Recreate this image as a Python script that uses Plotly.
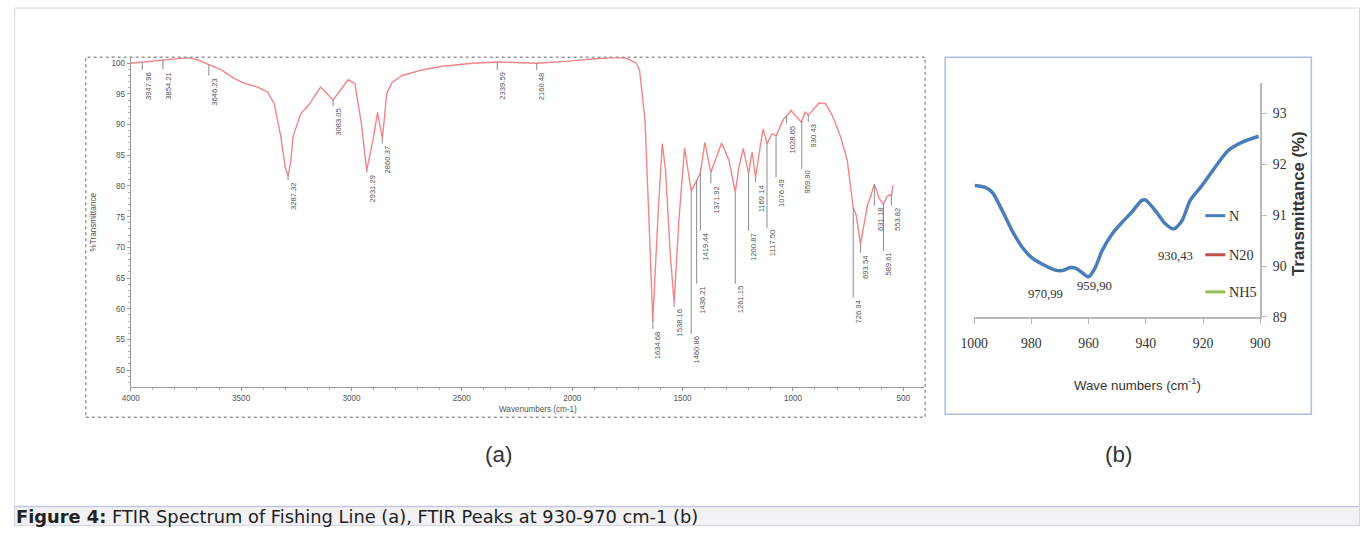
import plotly.graph_objects as go
import numpy as np

W, H = 1370, 534
# the photographed page is fitted into the window slightly reduced; layout helpers compensate
S, OX = 0.982, 12.3

# ---------------- (a) FTIR spectrum of fishing line ----------------
wavenumber = [4000, 3948, 3900, 3854, 3800, 3740, 3700, 3646, 3590, 3530, 3485, 3425, 3380,
              3350, 3320, 3300, 3287, 3275, 3265, 3230, 3195, 3140, 3083, 3015, 2985, 2955,
              2931, 2900, 2882, 2860, 2840, 2815, 2770, 2680, 2590, 2450, 2340, 2160, 2030,
              1870, 1800, 1755, 1710, 1695, 1688, 1670, 1652, 1635, 1610, 1592, 1577, 1556,
              1538, 1517, 1491, 1478, 1461, 1436, 1419, 1399, 1372, 1323, 1290, 1261, 1245,
              1225, 1201, 1185, 1169, 1150, 1135, 1117, 1095, 1076, 1041, 1029, 1008, 985,
              962, 945, 930, 882, 852, 822, 784, 754, 727, 713, 694, 661, 649, 631, 610,
              590, 575, 560, 554, 547]
transmittance = [100.0, 100.2, 100.3, 100.5, 100.7, 100.9, 100.6, 99.8, 98.9, 97.5, 96.7, 96.1, 95.3,
                 93.4, 88.0, 83.0, 81.7, 84.0, 88.0, 91.8, 93.1, 96.1, 94.0, 97.3, 96.7, 90.1,
                 82.5, 88.0, 92.0, 87.7, 95.1, 96.9, 98.0, 98.9, 99.5, 100.0, 100.2, 100.0, 100.3,
                 100.8, 100.9, 100.8, 100.0, 98.9, 96.4, 90.7, 74.3, 58.0, 76.0, 86.9, 82.5, 69.0,
                 61.0, 74.3, 86.2, 83.0, 79.2, 80.9, 82.2, 87.1, 82.2, 87.0, 84.2, 79.0, 83.0,
                 86.1, 82.0, 85.5, 81.4, 86.0, 89.3, 86.9, 88.5, 88.2, 91.0, 91.4, 92.3, 91.3,
                 90.4, 92.0, 91.5, 93.5, 93.4, 91.5, 88.0, 84.2, 76.5, 75.2, 70.5, 77.1, 78.2, 80.3, 78.0,
                 77.0, 78.2, 78.6, 78.3, 80.1]

peak_wn = [3947.96, 3854.21, 3646.23, 3287.32, 3083.05, 2931.29, 2860.37, 2339.59, 2160.48,
           1634.68, 1538.16, 1460.86, 1436.21, 1419.44, 1371.92, 1261.15, 1200.87, 1169.14,
           1117.50, 1076.49, 1028.65, 959.90, 930.43, 726.94, 693.54, 631.18, 589.61, 553.82]
peak_text = ["3947.96", "3854.21", "3646.23", "3287.32", "3083.05", "2931.29", "2860.37", "2339.59",
             "2160.48", "1634.68", "1538.16", "1460.86", "1436.21", "1419.44", "1371.92", "1261.15",
             "1200.87", "1169.14", "1117.50", "1076.49", "1028.65", "959.90", "930.43", "726.94",
             "693.54", "631.18", "589.61", "553.82"]
# layout: level (in %T) at which each rotated peak label starts
peak_label_level = [98.86, 99.0, 98.0, 80.9, 93.0, 82.2, 86.9, 98.9, 98.9,
                    56.7, 60.3, 55.9, 64.1, 72.7, 80.4, 64.1, 72.7, 80.6,
                    73.2, 81.4, 90.2, 82.8, 90.4, 61.8, 69.1, 76.8, 69.4, 76.8]

a_xticks = [4000, 3500, 3000, 2500, 2000, 1500, 1000, 500]
a_yticks = [50, 55, 60, 65, 70, 75, 80, 85, 90, 95, 100]

# ---------------- (b) FTIR peaks at 930-970 cm-1 ----------------
b_wn = [999.8, 996, 993.7, 990.2, 986.7, 983.2, 979.8, 976.3, 971.6, 969.3, 966.4, 964.6, 962.3,
        960, 957.7, 955.3, 951.8, 948.3, 944.9, 941.4, 940.2, 936.7, 933.2, 930.3, 927.4, 924.5,
        920.4, 915.8, 911.2, 906.5, 900.6]
b_N = [91.58, 91.54, 91.45, 91.09, 90.69, 90.37, 90.16, 90.04, 89.92, 89.91, 89.97, 89.96, 89.87,
       89.79, 89.97, 90.30, 90.63, 90.86, 91.06, 91.29, 91.30, 91.09, 90.83, 90.73, 90.89, 91.29,
       91.58, 91.94, 92.27, 92.43, 92.55]
b_peak_text = ["970,99", "959,90", "930,43"]
b_peak_x = [975.2, 958.1, 929.8]
b_peak_y = [89.45, 89.61, 90.2]
b_xticks = [1000, 980, 960, 940, 920, 900]
b_yticks = [89, 90, 91, 92, 93]
legend_names = ["N", "N20", "NH5"]
legend_colors = ["#4a7ebb", "#c0504d", "#9bbb59"]


def X(px):
    return min(max((px - OX) / S / W, 0.0), 1.0)


def Y(py):
    return min(max(1 - (py / S) / H, 0.0), 1.0)


def F(sz):
    return round(sz / S, 2)


fig = go.Figure()

fig.add_trace(go.Scatter(x=wavenumber, y=transmittance, mode="lines",
                         line=dict(color="#f58585", width=1.4),
                         xaxis="x", yaxis="y", showlegend=False, hoverinfo="skip"))

fig.add_trace(go.Scatter(x=b_wn, y=b_N, mode="lines", name="N",
                         line=dict(color=legend_colors[0], width=3.5, shape="spline", smoothing=0.8),
                         xaxis="x2", yaxis="y2", showlegend=False))

shapes = []
annotations = []

# whole-figure border and caption bar
shapes.append(dict(type="rect", xref="paper", yref="paper", x0=0.0004, x1=0.9996, y0=0, y1=Y(505),
                   fillcolor="#f2f2f5", line=dict(width=0), layer="below"))
shapes.append(dict(type="rect", xref="paper", yref="paper", x0=0.0004, x1=0.9996, y0=0.001, y1=Y(8),
                   line=dict(color="#d3d5e2", width=1)))
shapes.append(dict(type="line", xref="paper", yref="paper", x0=0.0004, x1=0.9996, y0=Y(505), y1=Y(505),
                   line=dict(color="#c3c8de", width=1.5)))

# frame of (a)
shapes.append(dict(type="rect", xref="paper", yref="paper", x0=X(84), x1=X(923), y0=Y(416), y1=Y(57),
                   line=dict(color="#9a9a9a", width=1.5, dash="dot")))
# frame of (b)
shapes.append(dict(type="rect", xref="paper", yref="paper", x0=X(943), x1=X(1309), y0=Y(413), y1=Y(57),
                   line=dict(color="#a8bfe4", width=1.5)))

# peak marker lines and rotated labels in (a)
wn_inc = np.array(wavenumber[::-1], dtype=float)
t_inc = np.array(transmittance[::-1], dtype=float)
for wn, txt, lvl in zip(peak_wn, peak_text, peak_label_level):
    yc = float(np.interp(wn, wn_inc, t_inc))
    shapes.append(dict(type="line", xref="x", yref="y", x0=wn, x1=wn, y0=yc, y1=lvl,
                       line=dict(color="#8a8a8a", width=1)))
    annotations.append(dict(x=wn, y=lvl, xref="x", yref="y", text=txt, textangle=-90,
                            showarrow=False, xanchor="left", yanchor="top", xshift=-1,
                            font=dict(family="Liberation Sans, Arial", size=F(7.5), color="#555555")))


def note(px, py, text, size, family="Liberation Sans, Arial", color="#333333", angle=0,
         xanchor="center"):
    annotations.append(dict(x=X(px), y=Y(py), xref="paper", yref="paper", text=text,
                            textangle=angle, showarrow=False, xanchor=xanchor, yanchor="middle",
                            font=dict(family=family, size=F(size), color=color)))


# axis titles of (a)
note(536, 408, "Wavenumbers (cm-1)", 8, color="#555555")
note(92, 221, "%Transmittance", 8, color="#555555", angle=-90)

# (b) peak labels
for txt, bx, by in zip(b_peak_text, b_peak_x, b_peak_y):
    annotations.append(dict(x=bx, y=by, xref="x2", yref="y2", text=txt, showarrow=False,
                            xanchor="center", yanchor="middle",
                            font=dict(family="Liberation Serif, Times New Roman", size=F(12.5),
                                      color="#333333")))

# (b) legend
for i, (nm, col) in enumerate(zip(legend_names, legend_colors)):
    ly = [215, 254, 291][i]
    shapes.append(dict(type="line", xref="paper", yref="paper", x0=X(1203), x1=X(1223), y0=Y(ly), y1=Y(ly),
                       line=dict(color=col, width=3)))
    note(1225, ly, nm, 14, family="Liberation Serif, Times New Roman", xanchor="left")

# (b) axis titles
note(1135, 383, "Wave numbers (cm<sup>-1</sup>)", 13)
note(1296, 203, "<b>Transmittance (%)</b>", 16.5, angle=-90)

# panel letters
note(497, 453, "(a)", 22)
note(1116, 453, "(b)", 22)

# caption
annotations.append(dict(x=X(10), y=1 - 524.5 / H, xref="paper", yref="paper", xanchor="left", yanchor="middle",
                        text="<b>Figure 4:</b> FTIR Spectrum of Fishing Line (a), FTIR Peaks at 930-970 cm-1 (b)",
                        showarrow=False,
                        font=dict(family="DejaVu Sans, Noto Sans", size=F(17.5), color="#222222")))

tickfont_a = dict(family="Liberation Sans, Arial", size=F(8), color="#555555")
tickfont_b = dict(family="Liberation Serif, Times New Roman", size=F(13.5), color="#333333")

fig.update_layout(
    width=W, height=H, autosize=False,
    margin=dict(l=0, r=0, t=0, b=0),
    paper_bgcolor="white", plot_bgcolor="white",
    showlegend=False,
    shapes=shapes, annotations=annotations,
    xaxis=dict(domain=[X(129), X(922)], range=[4000, 405.5], anchor="y",
               tickvals=a_xticks, ticktext=[str(v) for v in a_xticks], tickfont=tickfont_a,
               showline=True, linecolor="#9a9a9a", linewidth=1, ticks="outside", ticklen=3,
               tickcolor="#9a9a9a", showgrid=False, zeroline=False,
               minor=dict(dtick=100, ticks="outside", ticklen=2, tickcolor="#b0b0b0")),
    yaxis=dict(domain=[Y(386), Y(57)], range=[47.22, 100.98], anchor="x",
               tickvals=a_yticks, ticktext=[str(v) for v in a_yticks], tickfont=tickfont_a,
               showline=True, linecolor="#9a9a9a", linewidth=1, ticks="outside", ticklen=3,
               tickcolor="#9a9a9a", showgrid=False, zeroline=False,
               minor=dict(dtick=1, ticks="outside", ticklen=2, tickcolor="#b0b0b0")),
    xaxis2=dict(domain=[X(972), X(1258)], range=[1000, 900], anchor="y2",
                tickvals=b_xticks, ticktext=[str(v) for v in b_xticks], tickfont=tickfont_b,
                showline=True, linecolor="#b8b8b8", linewidth=1.5, ticks="outside", ticklen=5,
                tickcolor="#b8b8b8", showgrid=False, zeroline=False, ticklabelstandoff=8),
    yaxis2=dict(domain=[Y(316), Y(83)], range=[89, 93.59], anchor="x2", side="right",
                tickvals=b_yticks, ticktext=[str(v) for v in b_yticks], tickfont=tickfont_b,
                showline=True, linecolor="#b8b8b8", linewidth=1.5, ticks="outside", ticklen=5,
                tickcolor="#b8b8b8", showgrid=False, zeroline=False, ticklabelstandoff=3),
)

fig.write_html("out.html")
